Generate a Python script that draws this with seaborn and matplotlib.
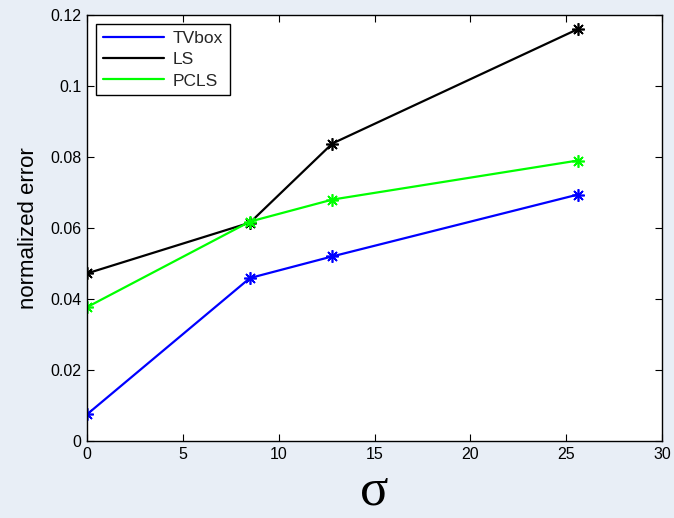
import matplotlib
matplotlib.use("Agg")
import matplotlib.pyplot as plt
from matplotlib.lines import Line2D
import seaborn as sns
import pandas as pd

sigma = [0, 8.5, 12.8, 25.6]
tvbox = [0.0075, 0.0459, 0.0520, 0.0694]
ls = [0.0472, 0.0615, 0.0838, 0.1160]
pcls = [0.0377, 0.0618, 0.0680, 0.0790]
series_names = ["TVbox", "LS", "PCLS"]
series_colors = ["#0000ff", "#000000", "#00ff00"]
xticks = [0, 5, 10, 15, 20, 25, 30]
yticks = [0, 0.02, 0.04, 0.06, 0.08, 0.1, 0.12]
ytick_labels = ["0", "0.02", "0.04", "0.06", "0.08", "0.1", "0.12"]

sns.set_theme(style="white")
plt.rcParams["font.family"] = ["Liberation Sans", "DejaVu Sans"]

bg = "#e8eef6"
fig = plt.figure(figsize=(6.74, 5.18), dpi=100, facecolor=bg)
ax = fig.add_axes([87 / 674, 1 - 441 / 518, 575 / 674, 426 / 518])
ax.set_facecolor("white")

for name, vals, col in zip(series_names, [tvbox, ls, pcls], series_colors):
    df = pd.DataFrame({"sigma": sigma, "err": vals})
    sns.lineplot(data=df, x="sigma", y="err", ax=ax, color=col, linewidth=1.6,
                 marker=(8, 2, 0), markersize=9, markeredgewidth=1.2,
                 markeredgecolor=col, label=name, legend=False)

ax.set_xlim(0, 30)
ax.set_ylim(0, 0.12)
ax.set_xticks(xticks)
ax.set_xticklabels([str(t) for t in xticks])
ax.set_yticks(yticks)
ax.set_yticklabels(ytick_labels)
ax.tick_params(direction="in", length=5, width=0.8, top=True, right=True,
               bottom=True, left=True, labelsize=11.5, colors="black",
               pad=4)
for s in ax.spines.values():
    s.set_visible(True)
    s.set_color("black")
    s.set_linewidth(1.0)

ax.set_ylabel("normalized error", fontsize=16, labelpad=8, color="black")
ax.set_xlabel("σ", fontsize=38, family=["Liberation Serif", "DejaVu Serif"],
              labelpad=4, color="black")

handles = [Line2D([0], [0], color=c, linewidth=1.6) for c in series_colors]
leg = ax.legend(handles, series_names, loc="upper left",
                bbox_to_anchor=(0.0157, 0.979), fontsize=12.5,
                frameon=True, fancybox=False, edgecolor="black",
                framealpha=1, handlelength=3.5, handletextpad=0.5,
                labelspacing=0.35, borderpad=0.4, borderaxespad=0)
leg.get_frame().set_linewidth(1.0)

fig.savefig("out.png", dpi=100, facecolor=bg)
